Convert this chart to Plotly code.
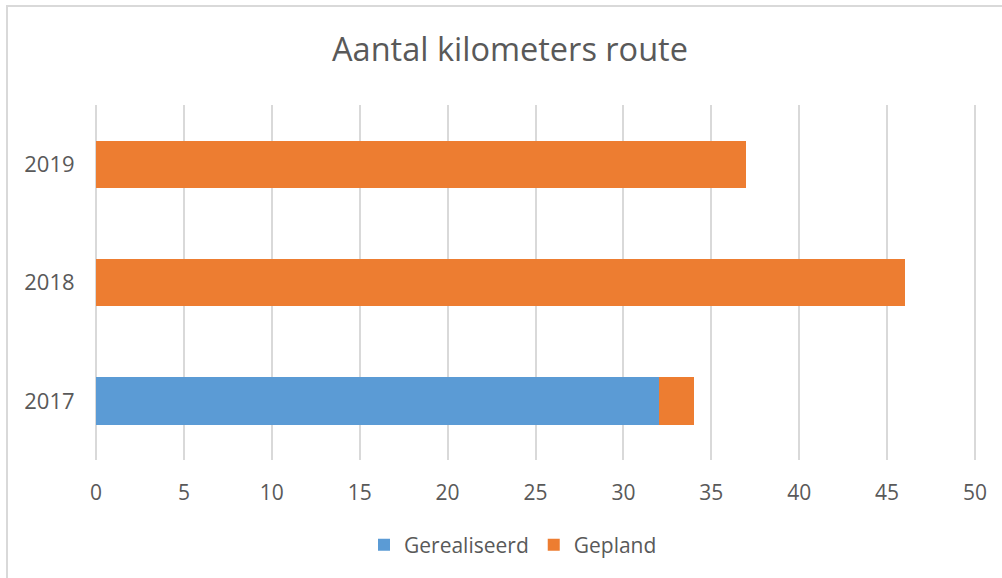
import plotly.graph_objects as go

years = ["2017", "2018", "2019"]
gerealiseerd = [32, None, None]
gepland = [2, 46, 37]
x_ticks = [0, 5, 10, 15, 20, 25, 30, 35, 40, 45, 50]

W, H = 1002, 578
X0PX, X50PX = 96, 975          # pixel position of 0 and 50 in the reference
EXT = 2                        # extra pixels on each side so edge gridlines are drawn
L, R, T, B = X0PX - EXT, X50PX + EXT, 105, 460
pw, ph = R - L, B - T
unit = (X50PX - X0PX) / 50.0
xr = [0 - EXT / unit, 50 + EXT / unit]

def px(x):
    return (x - L) / pw

def py(y):
    return (B - y) / ph

font_family = "Open Sans, DejaVu Sans, sans-serif"
txt = "#595959"

fig = go.Figure()
fig.add_trace(go.Bar(name="Gerealiseerd", y=years, x=gerealiseerd, orientation="h",
                     marker=dict(color="#5B9BD5", line=dict(width=0))))
fig.add_trace(go.Bar(name="Gepland", y=years, x=gepland, orientation="h",
                     marker=dict(color="#ED7D31", line=dict(width=0))))

fig.update_layout(
    width=W, height=H,
    barmode="stack", bargap=0.6,
    margin=dict(l=L, r=W - R, t=T, b=H - B, pad=0),
    paper_bgcolor="white", plot_bgcolor="white",
    font=dict(family=font_family, size=21, color=txt),
    title=dict(text="Aantal kilometers route", x=510 / W, xanchor="center",
               y=1 - 50 / H, yanchor="middle", xref="container", yref="container",
               font=dict(size=32.5, color=txt, family=font_family)),
    xaxis=dict(range=xr, tickvals=x_ticks, showgrid=True, gridcolor="#d9d9d9",
               gridwidth=2, zeroline=False, showline=False, ticks="outside",
               ticklen=14, tickcolor="rgba(0,0,0,0)", fixedrange=True,
               tickfont=dict(size=21, color=txt)),
    yaxis=dict(type="category", categoryorder="array", categoryarray=years,
               showgrid=False, zeroline=False, showline=False, ticks="outside",
               ticklen=16 - EXT, tickcolor="rgba(0,0,0,0)", fixedrange=True,
               tickfont=dict(size=22, color=txt)),
    legend=dict(orientation="h", x=px(513), xanchor="center", y=py(545), yanchor="middle",
                font=dict(size=21, color=txt), traceorder="normal"),
    showlegend=True,
    shapes=[dict(type="rect", xref="paper", yref="paper",
                 x0=px(7), y0=py(6), x1=px(1015), y1=py(595),
                 line=dict(color="#d9d9d9", width=2), fillcolor="rgba(0,0,0,0)")],
)

fig.write_html("out.html", config={"displayModeBar": False},
               post_script="document.body.style.margin='0';document.body.style.overflow='hidden';")
